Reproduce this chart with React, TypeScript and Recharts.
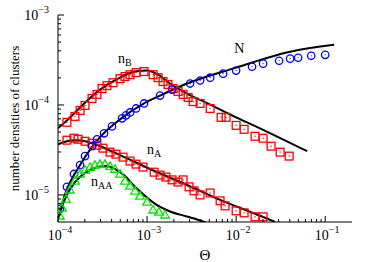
import React from 'react';
import { ComposedChart, Line, Scatter, XAxis, YAxis, ReferenceDot } from 'recharts';

type P = [number, number];

// simulation points (Θ, density)
const nBSim: P[] = [[1.26e-4,6.41e-5],[1.55e-4,7.46e-5],[1.77e-4,8.69e-5],[2.01e-4,9.87e-5],[2.41e-4,1.18e-4],[2.74e-4,1.31e-4],[3.12e-4,1.52e-4],[3.55e-4,1.64e-4],[4.15e-4,1.77e-4],[4.97e-4,1.96e-4],[5.66e-4,2.07e-4],[6.44e-4,2.17e-4],[7.52e-4,2.29e-4],[9.25e-4,2.35e-4],[1.17e-3,2.17e-4],[1.33e-3,2.01e-4],[1.51e-3,1.82e-4],[1.72e-3,1.69e-4],[1.96e-3,1.52e-4],[2.23e-3,1.41e-4],[2.54e-3,1.31e-4],[2.89e-3,1.21e-4],[3.29e-3,1.09e-4],[3.94e-3,1.04e-4],[5.11e-3,9.14e-5],[6.78e-3,7.28e-5],[7.72e-3,7.28e-5],[1.0e-2,5.93e-5],[1.23e-2,5.36e-5],[1.63e-2,4.49e-5],[2.01e-2,4.27e-5],[2.47e-2,3.48e-5],[3.12e-2,2.99e-5],[3.94e-2,2.70e-5]];
const nSim: P[] = [[1.05e-4,7.0e-6],[1.26e-4,1.23e-5],[1.51e-4,1.71e-5],[1.77e-4,2.15e-5],[2.01e-4,2.70e-5],[2.41e-4,3.48e-5],[2.74e-4,4.16e-5],[3.29e-4,4.84e-5],[4.04e-4,5.78e-5],[5.24e-4,7.10e-5],[5.81e-4,7.66e-5],[6.44e-4,8.26e-5],[7.52e-4,9.14e-5],[9.25e-4,1.04e-4],[1.40e-3,1.27e-4],[1.91e-3,1.48e-4],[3.04e-3,1.73e-4],[3.94e-3,1.87e-4],[5.11e-3,2.01e-4],[7.14e-3,2.23e-4],[1.0e-2,2.41e-4],[1.51e-2,2.66e-4],[2.01e-2,2.88e-4],[3.04e-2,3.10e-4],[4.04e-2,3.27e-4],[4.97e-2,3.35e-4],[6.97e-2,3.52e-4],[1.0e-1,3.61e-4]];
const nASim: P[] = [[1.26e-4,4.06e-5],[1.51e-4,4.27e-5],[1.68e-4,4.16e-5],[2.01e-4,3.95e-5],[2.41e-4,3.76e-5],[2.74e-4,3.57e-5],[3.20e-4,3.31e-5],[3.84e-4,2.99e-5],[4.48e-4,2.84e-5],[5.37e-4,2.63e-5],[6.44e-4,2.38e-5],[7.52e-4,2.20e-5],[9.02e-4,2.04e-5],[1.20e-3,1.79e-5],[1.40e-3,1.66e-5],[1.63e-3,1.58e-5],[1.91e-3,1.47e-5],[2.23e-3,1.39e-5],[2.54e-3,1.47e-5],[2.96e-3,1.23e-5],[3.37e-3,1.11e-5],[3.94e-3,1.0e-5],[5.11e-3,1.05e-5],[6.61e-3,8.59e-6],[7.52e-3,7.56e-6],[1.0e-2,6.65e-6],[1.23e-2,6.32e-6],[1.63e-2,5.71e-6],[2.01e-2,5.71e-6]];
const nAASim: P[] = [[1.05e-4,5.86e-6],[1.11e-4,7.18e-6],[1.23e-4,9.04e-6],[1.36e-4,1.14e-5],[1.55e-4,1.43e-5],[1.77e-4,1.71e-5],[2.01e-4,1.89e-5],[2.29e-4,2.04e-5],[2.60e-4,2.15e-5],[2.96e-4,2.20e-5],[3.37e-4,2.20e-5],[3.84e-4,2.09e-5],[4.37e-4,1.94e-5],[4.97e-4,1.71e-5],[5.66e-4,1.43e-5],[6.44e-4,1.26e-5],[7.33e-4,1.11e-5],[8.34e-4,9.75e-6],[1.0e-3,8.37e-6],[1.17e-3,6.83e-6],[1.36e-3,6.48e-6],[1.59e-3,6.01e-6]];

// theory curves
const nBTheory: P[] = [[1.0e-4,5.5e-5],[1.26e-4,6.74e-5],[1.77e-4,9.38e-5],[2.96e-4,1.48e-4],[4.97e-4,2.01e-4],[7.33e-4,2.35e-4],[1.0e-3,2.41e-4],[1.33e-3,2.17e-4],[1.81e-3,1.73e-4],[2.81e-3,1.34e-4],[5.11e-3,1.01e-4],[1.0e-2,7.28e-5],[2.06e-2,5.23e-5],[6.28e-2,3.06e-5]];
const nTheory: P[] = [[1.0e-4,5.71e-6],[1.26e-4,1.16e-5],[1.77e-4,2.15e-5],[2.96e-4,4.38e-5],[4.97e-4,6.92e-5],[9.25e-4,1.04e-4],[1.40e-3,1.27e-4],[2.81e-3,1.73e-4],[1.0e-2,2.60e-4],[4.04e-2,3.90e-4],[1.26e-1,4.66e-4]];
const nATheory: P[] = [[1.0e-4,3.66e-5],[1.26e-4,3.95e-5],[1.55e-4,4.06e-5],[2.01e-4,3.95e-5],[2.96e-4,3.48e-5],[4.97e-4,2.77e-5],[1.08e-3,1.94e-5],[2.81e-3,1.29e-5],[6.61e-3,8.81e-6],[1.86e-2,5.86e-6],[2.74e-2,5.0e-6]];
const nAATheory: P[] = [[1.0e-4,5.43e-6],[1.20e-4,9.04e-6],[1.55e-4,1.39e-5],[2.01e-4,1.75e-5],[2.60e-4,1.99e-5],[3.37e-4,2.09e-5],[4.37e-4,1.94e-5],[5.66e-4,1.62e-5],[7.33e-4,1.23e-5],[9.50e-4,9.75e-6],[1.23e-3,7.96e-6],[1.81e-3,6.55e-6],[2.81e-3,5.76e-6],[3.94e-3,5.2e-6],[4.6e-3,4.95e-6]];

// curve labels: [Θ, density, main, subscript]
const curveLabels: [number, number, string, string][] = [
  [4.72e-4, 2.95e-4, 'n', 'B'],
  [9.5e-3, 3.8e-4, 'N', ''],
  [1.0e-3, 2.84e-5, 'n', 'A'],
  [2.35e-4, 1.26e-5, 'n', 'AA'],
];

const xDomain = [1e-4, 0.2];
const yDomain = [5e-6, 1e-3];
const xDecades = [1e-4, 1e-3, 1e-2, 1e-1];
const yDecades = [1e-6, 1e-5, 1e-4, 1e-3];
const minorMult = [1, 2, 3, 4, 5, 6, 7, 8, 9];

const within = (v: number, d: number[]) => v > d[0] * 1.0001 && v < d[1] * 0.9999;
const xTicks = xDecades.flatMap(d => minorMult.map(m => m * d)).filter(v => within(v, xDomain) || v === xDomain[0]);
const yTicks = yDecades.flatMap(d => minorMult.map(m => m * d)).filter(v => within(v, yDomain) || v === yDomain[1]);

const toPts = (a: P[]) => a.map(([x, y]) => ({ x, y }));

const FONT = '"Liberation Serif", "Times New Roman", serif';
const isMajor = (v: number) => Math.abs(Math.log10(v) - Math.round(Math.log10(v))) < 1e-6;
const expOf = (v: number) => Math.round(Math.log10(v));
const MAJ = 6, MIN = 3;

const LeftTick = (p: any) => {
  const v = p.payload.value;
  const maj = isMajor(v);
  return (
    <g>
      <line x1={p.x} y1={p.y} x2={p.x + (maj ? MAJ : MIN)} y2={p.y} stroke="#000" strokeWidth={1} />
      {maj && (
        <text x={p.x - 9} y={p.y + 5} textAnchor="end" fontFamily={FONT} fill="#000">
          <tspan fontSize={14}>10</tspan>
          <tspan fontSize={10} dy={-7}>{'\u2212' + Math.abs(expOf(v))}</tspan>
        </text>
      )}
    </g>
  );
};
const RightTick = (p: any) => {
  const maj = isMajor(p.payload.value);
  return <line x1={p.x} y1={p.y} x2={p.x - (maj ? MAJ : MIN)} y2={p.y} stroke="#000" strokeWidth={1} />;
};
const BottomTick = (p: any) => {
  const v = p.payload.value;
  const maj = isMajor(v);
  return (
    <g>
      <line x1={p.x} y1={p.y} x2={p.x} y2={p.y - (maj ? MAJ : MIN)} stroke="#000" strokeWidth={1} />
      {maj && (
        <text x={p.x + 2} y={p.y + 18} textAnchor="middle" fontFamily={FONT} fill="#000">
          <tspan fontSize={14}>10</tspan>
          <tspan fontSize={10} dy={-7}>{'\u2212' + Math.abs(expOf(v))}</tspan>
        </text>
      )}
    </g>
  );
};
const TopTick = (p: any) => {
  const maj = isMajor(p.payload.value);
  return <line x1={p.x} y1={p.y} x2={p.x} y2={p.y + (maj ? MAJ : MIN)} stroke="#000" strokeWidth={1} />;
};

const Square = (p: any) => (
  <g>
    <rect x={p.cx - 3.9} y={p.cy - 3.9} width={7.8} height={7.8} fill="none" stroke="#ff0000" strokeWidth={1.3} />
    <rect x={p.cx - 0.6} y={p.cy - 0.6} width={1.2} height={1.2} fill="#ff0000" />
  </g>
);
const Circle = (p: any) => (
  <g>
    <circle cx={p.cx} cy={p.cy} r={3.7} fill="none" stroke="#0000ff" strokeWidth={1.3} />
    <circle cx={p.cx} cy={p.cy} r={0.6} fill="#0000ff" />
  </g>
);
const Triangle = (p: any) => (
  <polygon
    points={`${p.cx},${p.cy - 4.3} ${p.cx - 4.3},${p.cy + 3.2} ${p.cx + 4.3},${p.cy + 3.2}`}
    fill="none" stroke="#00e600" strokeWidth={1.3}
  />
);

export default function App() {
  return (
    <div style={{ position: 'absolute', left: 0, top: 0, background: '#fff' }}>
      <ComposedChart width={374} height={262} margin={{ top: 15, right: 22, bottom: 0, left: 0 }}>
        <XAxis
          xAxisId="b" dataKey="x" type="number" scale="log" domain={xDomain} allowDataOverflow
          ticks={xTicks} interval={0} tickSize={0} tickMargin={0} height={40}
          tick={(p: any) => <BottomTick {...p} />} tickLine={false} axisLine={{ stroke: '#000' }}
          label={{
            content: (lp: any) => {
              const vb = lp.viewBox;
              return <text x={vb.x + vb.width / 2} y={vb.y + 38} textAnchor="middle" fontFamily={FONT} fontSize={15} fill="#000">Θ</text>;
            },
          }}
        />
        <XAxis
          xAxisId="t" orientation="top" dataKey="x" type="number" scale="log" domain={xDomain} allowDataOverflow
          ticks={xTicks} interval={0} tickSize={0} tickMargin={0} height={0}
          tick={(p: any) => <TopTick {...p} />} tickLine={false} axisLine={{ stroke: '#000' }}
        />
        <YAxis
          yAxisId="l" dataKey="y" type="number" scale="log" domain={yDomain} allowDataOverflow
          ticks={yTicks} interval={0} tickSize={0} tickMargin={0} width={58}
          tick={(p: any) => <LeftTick {...p} />} tickLine={false} axisLine={{ stroke: '#000' }}
          label={{
            content: (lp: any) => {
              const vb = lp.viewBox;
              const cy = vb.y + vb.height / 2;
              return (
                <text x={19} y={cy} transform={`rotate(-90, 19, ${cy})`} textAnchor="middle" fontFamily={FONT} fontSize={13} fill="#000">
                  number densities of clusters
                </text>
              );
            },
          }}
        />
        <YAxis
          yAxisId="r" orientation="right" dataKey="y" type="number" scale="log" domain={yDomain} allowDataOverflow
          ticks={yTicks} interval={0} tickSize={0} tickMargin={0} width={0}
          tick={(p: any) => <RightTick {...p} />} tickLine={false} axisLine={{ stroke: '#000' }}
        />

        <Scatter xAxisId="b" yAxisId="l" data={toPts(nBSim)} dataKey="y" shape={Square} isAnimationActive={false} />
        <Scatter xAxisId="b" yAxisId="l" data={toPts(nASim)} dataKey="y" shape={Square} isAnimationActive={false} />
        <Scatter xAxisId="b" yAxisId="l" data={toPts(nSim)} dataKey="y" shape={Circle} isAnimationActive={false} />
        <Scatter xAxisId="b" yAxisId="l" data={toPts(nAASim)} dataKey="y" shape={Triangle} isAnimationActive={false} />

        <Line xAxisId="b" yAxisId="l" data={toPts(nBTheory)} dataKey="y" type="monotone" stroke="#000" strokeWidth={2} dot={false} isAnimationActive={false} />
        <Line xAxisId="b" yAxisId="l" data={toPts(nTheory)} dataKey="y" type="monotone" stroke="#000" strokeWidth={2} dot={false} isAnimationActive={false} />
        <Line xAxisId="b" yAxisId="l" data={toPts(nATheory)} dataKey="y" type="monotone" stroke="#000" strokeWidth={2} dot={false} isAnimationActive={false} />
        <Line xAxisId="b" yAxisId="l" data={toPts(nAATheory)} dataKey="y" type="monotone" stroke="#000" strokeWidth={2} dot={false} isAnimationActive={false} />

        {curveLabels.map(([x, y, main, sub], i) => (
          <ReferenceDot
            key={i} xAxisId="b" yAxisId="l" x={x} y={y} r={0} ifOverflow="visible"
            shape={(sp: any) => (
              <text x={sp.cx} y={sp.cy} fontFamily={FONT} fill="#000">
                <tspan fontSize={14}>{main}</tspan>
                {sub && <tspan fontSize={10} dy={3}>{sub}</tspan>}
              </text>
            )}
          />
        ))}
      </ComposedChart>
    </div>
  );
}
